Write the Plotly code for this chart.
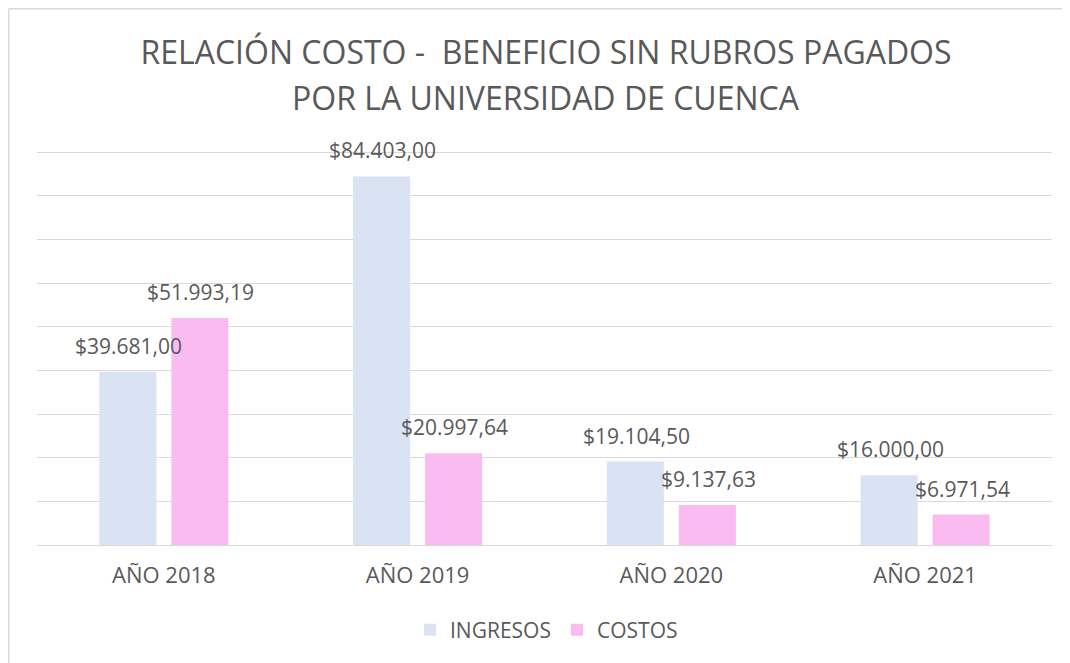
import plotly.graph_objects as go

categories = ["AÑO 2018", "AÑO 2019", "AÑO 2020", "AÑO 2021"]
ingresos = [39681.00, 84403.00, 19104.50, 16000.00]
costos = [51993.19, 20997.64, 9137.63, 6971.54]
series_names = ["INGRESOS", "COSTOS"]
title_lines = ["RELACIÓN COSTO -  BENEFICIO SIN RUBROS PAGADOS", "POR LA UNIVERSIDAD DE CUENCA"]

FONT = "Open Sans"
GREY = "#595959"
OFF = 8  # page body margin

W, H = 1070 - OFF, 663 - OFF
L = 37 - OFF
R = W - (1052 - OFF)
T = 148 - OFF
B = H - (545 - OFF)
pw, ph = W - L - R, H - T - B
YMAX = 90000 * (545 - 148) / (545 - 152)

def px_x(px):
    return (px - OFF - L) / pw

def px_y(py):
    return (H - B - (py - OFF)) / ph

def fmt(v):
    s = f"{v:,.2f}"
    return "$" + s.replace(",", "_").replace(".", ",").replace("_", ".")

fig = go.Figure()
series = [(series_names[0], ingresos, "#DAE3F3", -36), (series_names[1], costos, "#FABBF0", 36)]
annotations = [dict(text=title_lines[1], x=px_x(546), y=px_y(97), xref="paper", yref="paper",
                    xanchor="center", yanchor="middle", showarrow=False,
                    font=dict(family=FONT, size=32, color=GREY))]
for name, vals, col, dx in series:
    fig.add_trace(go.Bar(
        x=categories, y=vals, name=name, marker_color=col, marker_line_width=0,
        hovertemplate="%{x}: $%{y:,.2f}<extra>" + name + "</extra>",
    ))
    for c, v in zip(categories, vals):
        annotations.append(dict(
            x=c, y=v, xref="x", yref="y", text=fmt(v), showarrow=False,
            xanchor="center", yanchor="bottom", xshift=dx + 1, yshift=10,
            font=dict(family=FONT, size=21, color=GREY),
        ))

fig.update_layout(
    width=W, height=H,
    margin=dict(l=L, r=R, t=T, b=B),
    paper_bgcolor="white", plot_bgcolor="white",
    separators=",.",
    barmode="group", bargap=0.4325, bargroupgap=0.208,
    font=dict(family=FONT, color=GREY),
    title=dict(text=title_lines[0], x=px_x(546), xref="paper", xanchor="center",
               y=1 - (53 - OFF) / H, yanchor="middle", font=dict(family=FONT, size=32, color=GREY)),
    annotations=annotations,
    legend=dict(orientation="h", x=px_x(557), xanchor="center", y=px_y(630), yanchor="middle",
                font=dict(family=FONT, size=21, color=GREY), traceorder="normal",
                entrywidth=102),
    showlegend=True,
    shapes=[
        dict(type="line", xref="paper", yref="paper", x0=px_x(8.75), x1=px_x(1080), y0=px_y(8.75), y1=px_y(8.75),
             line=dict(color="#d9d9d9", width=1.5)),
        dict(type="line", xref="paper", yref="paper", x0=px_x(8.75), x1=px_x(8.75), y0=px_y(8.75), y1=px_y(680),
             line=dict(color="#d9d9d9", width=1.5)),
    ],
)
fig.update_yaxes(range=[0, YMAX], dtick=10000, showticklabels=False, showgrid=True,
                 gridcolor="#d9d9d9", gridwidth=1, zeroline=False, showline=False, ticks="")
fig.update_xaxes(showline=True, linecolor="#d9d9d9", linewidth=1, ticks="", ticklabelstandoff=11,
                 tickfont=dict(family=FONT, size=22, color=GREY))

fig.write_html("out.html")
